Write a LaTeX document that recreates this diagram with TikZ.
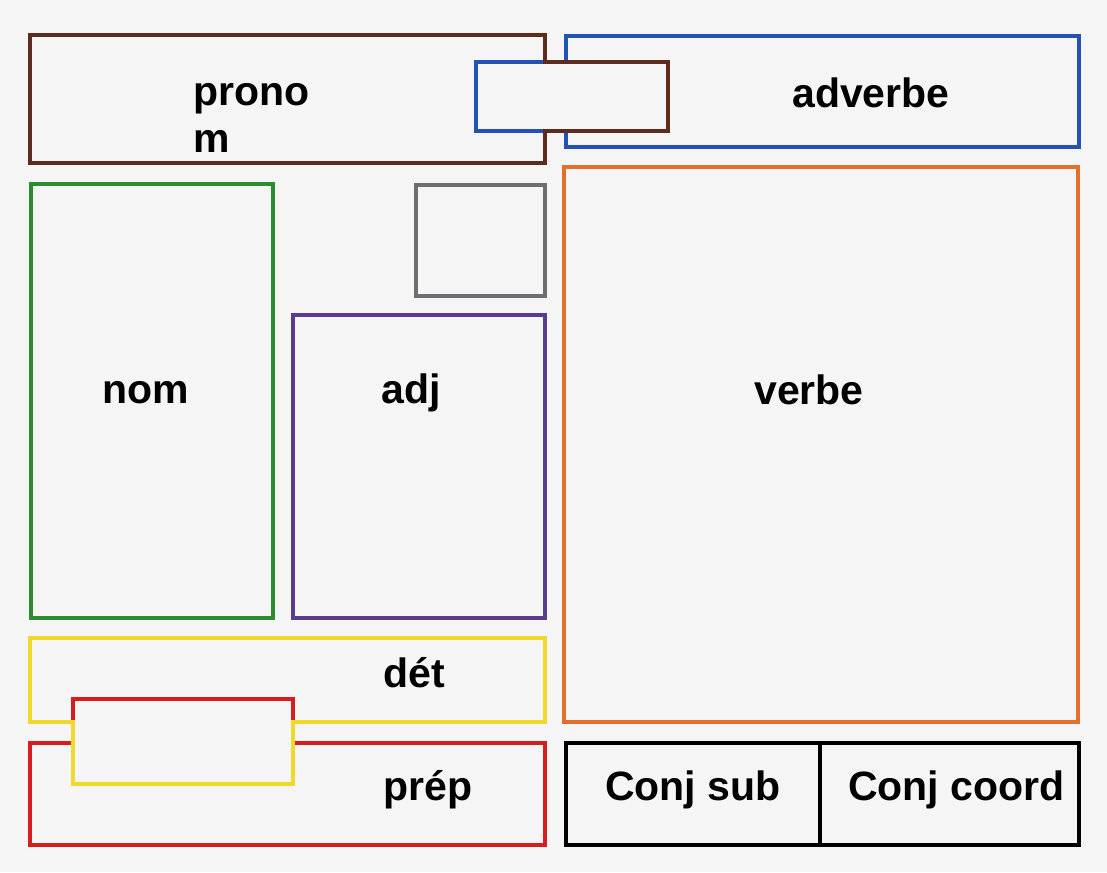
\documentclass[tikz,border=0pt]{standalone}
\usepackage{fontspec}
\setmainfont{Liberation Sans}
\definecolor{bg}{HTML}{F5F5F6}
\definecolor{cbrown}{HTML}{5E2B1F}
\definecolor{cblue}{HTML}{2452B4}
\definecolor{cgreen}{HTML}{2A8C2E}
\definecolor{cpurple}{HTML}{5A3C8E}
\definecolor{cgray}{HTML}{6E6E72}
\definecolor{corange}{HTML}{E2702A}
\definecolor{cyellow}{HTML}{F2D82A}
\definecolor{cred}{HTML}{D61E1E}
\begin{document}
\begin{tikzpicture}[x=1pt,y=-1pt,
  boxline/.style={line width=3.1pt, line join=miter},
  lbl/.style={font=\fontsize{41}{45}\selectfont\bfseries, inner sep=0pt, anchor=base west}]
\useasboundingbox[fill=bg] (0,0) rectangle (1107,872);
% adverbe (blue) with tab
\draw[boxline,cblue] (566,36) -- (1079,36) -- (1079,147) -- (566,147) -- (566,131) -- (476,131) -- (476,62) -- (566,62) -- cycle;
% pronom (brown) with tab
\draw[boxline,cbrown] (30,35) -- (545,35) -- (545,62) -- (668,62) -- (668,131) -- (545,131) -- (545,163) -- (30,163) -- cycle;
% nom
\draw[boxline,cgreen] (31,184) rectangle (273,618);
% gray box
\draw[boxline,cgray] (416,185) rectangle (545,296);
% adj
\draw[boxline,cpurple] (293,315) rectangle (545,618);
% verbe
\draw[boxline,corange] (564,167) rectangle (1078,722);
% prep (red) with tab
\draw[boxline,cred] (30,743) -- (73,743) -- (73,699) -- (293,699) -- (293,743) -- (545,743) -- (545,845) -- (30,845) -- cycle;
% det (yellow) with tab
\draw[boxline,cyellow] (30,638) -- (545,638) -- (545,722) -- (293,722) -- (293,784) -- (73,784) -- (73,722) -- (30,722) -- cycle;
% conj
\draw[boxline,black] (566,743) rectangle (1079,845);
\draw[boxline,black] (820,743) -- (820,845);
% labels
\node[lbl] (pronom1) at (193,106) {prono};
\node[lbl] (pronom2) at (193,152) {m};
\node[lbl] (adverbe) at (792,107) {adverbe};
\node[lbl] (nom) at (102,403) {nom};
\node[lbl] (adj) at (381,403) {adj};
\node[lbl] (verbe) at (754,404) {verbe};
\node[lbl] (det) at (383,687) {dét};
\node[lbl] (prep) at (383,800) {prép};
\node[lbl] (conjsub) at (605,800) {Conj sub};
\node[lbl] (conjcoord) at (848,800) {Conj coord};
\end{tikzpicture}
\end{document}
